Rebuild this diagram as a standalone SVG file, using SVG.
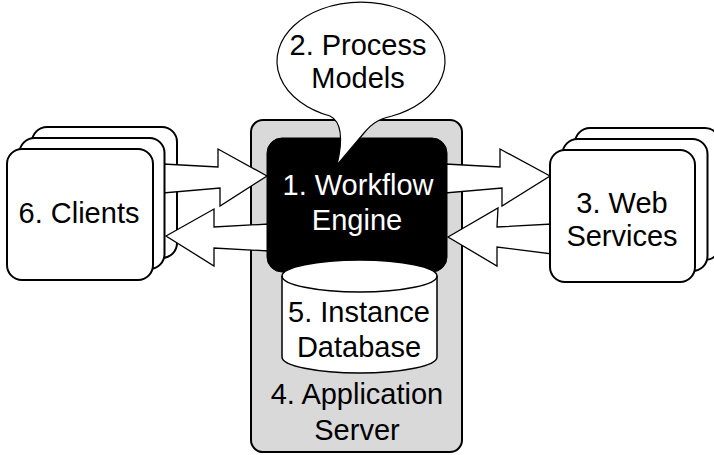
<svg xmlns="http://www.w3.org/2000/svg" width="714" height="455" viewBox="0 0 714 455">
<style>
.box{fill:#fff;stroke:#000;stroke-width:2}
.arrow{fill:#fff;stroke:#000;stroke-width:1.3;stroke-linejoin:miter}
.t{font-family:"Liberation Sans",Arial,sans-serif;font-size:29px;text-anchor:middle;fill:#000}
.tw{font-family:"Liberation Sans",Arial,sans-serif;font-size:29px;text-anchor:middle;fill:#fff}
</style>
<rect width="714" height="455" fill="#fff"/>
<g id="app-server">
<rect x="251" y="120" width="211" height="332" rx="12" fill="#d9d9d9" stroke="#000" stroke-width="2"/>
<text class="t" x="357" y="404">4. Application</text>
<text class="t" x="357" y="440">Server</text>
</g>
<g id="clients-back">
<rect class="box" x="32" y="127" width="145" height="131" rx="15"/>
</g>
<g id="services-back">
<rect class="box" x="575" y="128" width="145" height="132" rx="15"/>
</g>
<g id="connectors">
<polygon class="arrow" points="163,164 218,167 218,149 267,176 220,206 220,188 163,193"/>
<polygon class="arrow" points="166,236 214,209 214,227 269,224 269,251 214,248 214,266"/>
<polygon class="arrow" points="445,164 500,167 500,149 550,176 502,206 502,188 445,193"/>
<polygon class="arrow" points="448,237 498,208 497,227 552,224 552,254 497,247 497,266"/>
</g>
<g id="clients">
<rect class="box" x="19.5" y="138" width="145" height="131" rx="15"/>
<rect class="box" x="7" y="149" width="146" height="131" rx="15"/>
<text class="t" x="79" y="223">6. Clients</text>
</g>
<g id="services">
<rect class="box" x="562.5" y="139" width="145" height="132" rx="15"/>
<rect class="box" x="550" y="150" width="145" height="132" rx="15"/>
<text class="t" x="622" y="213">3. Web</text>
<text class="t" x="622" y="246">Services</text>
</g>
<g id="engine">
<rect x="267" y="138" width="180" height="134" rx="15" fill="#000" stroke="#000" stroke-width="1"/>
<text class="tw" x="358" y="195">1. Workflow</text>
<text class="tw" x="357" y="230">Engine</text>
</g>
<g id="database">
<path d="M282,276 L282,357 A77.5,16 0 0 0 437,357 L437,276 A77.5,16 0 0 0 282,276 Z" fill="#fff" stroke="#000" stroke-width="1.5"/>
<path d="M282,276 A77.5,16 0 0 0 437,276" fill="none" stroke="#000" stroke-width="1.5"/>
<text class="t" x="359" y="322">5. Instance</text>
<text class="t" x="359" y="357">Database</text>
</g>
<g id="process-models">
<path d="M330,116 A84,59 0 1 1 392,116 C380,119 373,122 364,133 L337,165 C343,140 342,122 330,116 Z" fill="#fff" stroke="#000" stroke-width="1.2"/>
<text class="t" x="358" y="55">2. Process</text>
<text class="t" x="358" y="88">Models</text>
</g>
</svg>
